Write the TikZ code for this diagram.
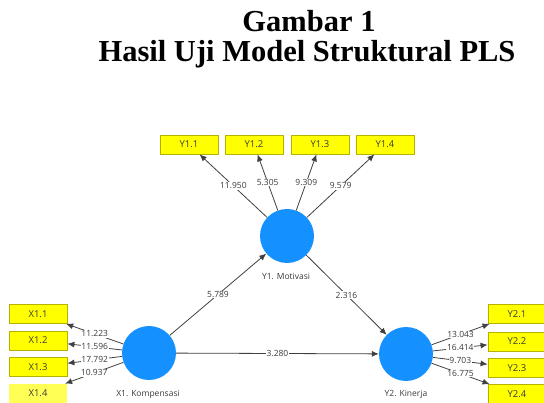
\documentclass[tikz,border=0pt]{standalone}
\usepackage{fontspec}
\setmainfont{Liberation Serif}
\newfontfamily\diagfont{Open Sans}
\usetikzlibrary{arrows.meta}
\definecolor{boxfill}{HTML}{FFFF00}
\definecolor{boxfillpale}{HTML}{FFFF55}
\definecolor{boxedge}{HTML}{B4B400}
\definecolor{latent}{HTML}{1591FF}
\definecolor{linegray}{HTML}{404040}
\definecolor{txtgray}{HTML}{3A3A3A}
\tikzset{
  ind/.style={draw=boxedge, fill=boxfill, line width=0.8pt, minimum width=58pt, minimum height=19pt, inner sep=0pt, font=\diagfont\fontsize{9.5}{10}\selectfont, text=txtgray},
  indpale/.style={ind, draw=none, fill=boxfillpale},
  lat/.style={circle, fill=latent, minimum size=54pt, inner sep=0pt},
  latlabel/.style={font=\diagfont\fontsize{8.5}{9}\selectfont, text=txtgray, inner sep=0pt},
  conn/.style={draw=linegray, line width=0.8pt, -{Latex[length=7pt,width=6pt]}},
  val/.style={fill=white, inner sep=0.6pt, font=\diagfont\fontsize{8.5}{9}\selectfont, text=txtgray},
  ttl/.style={font=\fontsize{30.5}{34}\bfseries\selectfont, inner sep=0pt, anchor=base}
}
\begin{document}
\begin{tikzpicture}[x=1pt,y=-1pt]
\useasboundingbox (0,0) rectangle (544,403);
% title
\node[ttl, text depth=0pt] (t1) at (309,32) {Gambar 1};
\node[ttl] (t2) at (307,62) {Hasil Uji Model Struktural PLS};
% latent variables
\node[lat] (Y1) at (287,236) {};
\node[lat] (X1) at (149,353) {};
\node[lat] (Y2) at (406,354) {};
\node[latlabel] (lY1) at (286,276) {Y1. Motivasi};
\node[latlabel] (lX1) at (148,394) {X1. Kompensasi};
\node[latlabel] (lY2) at (406,394.5) {Y2. Kinerja};
% indicators Y1
\node[ind] (y11) at (189,144.5) {Y1.1};
\node[ind] (y12) at (254,144.5) {Y1.2};
\node[ind] (y13) at (320,144.5) {Y1.3};
\node[ind] (y14) at (385,144.5) {Y1.4};
% indicators X1
\node[ind] (x11) at (38,314) {X1.1};
\node[ind] (x12) at (38,340.5) {X1.2};
\node[ind] (x13) at (38,367) {X1.3};
\node[indpale] (x14) at (38,393.5) {X1.4};
% indicators Y2
\node[ind] (y21) at (517,314) {Y2.1};
\node[ind] (y22) at (517,341.5) {Y2.2};
\node[ind] (y23) at (517,368) {Y2.3};
\node[ind] (y24) at (517,394) {Y2.4};
% outer model arrows
\draw[conn] (Y1) -- node[val] {11.950} (y11);
\draw[conn] (Y1) -- node[val] {5.305} (y12);
\draw[conn] (Y1) -- node[val] {9.309} (y13);
\draw[conn] (Y1) -- node[val] {9.579} (y14);
\draw[conn] (X1) -- node[val] {11.223} (x11);
\draw[conn] (X1) -- node[val] {11.596} (x12);
\draw[conn] (X1) -- node[val] {17.792} (x13);
\draw[conn] (X1) -- node[val] {10.937} (x14);
\draw[conn] (Y2) -- node[val] {13.043} (y21);
\draw[conn] (Y2) -- node[val] {16.414} (y22);
\draw[conn] (Y2) -- node[val] {9.703} (y23);
\draw[conn] (Y2) -- node[val] {16.775} (y24);
% inner model
\draw[conn] (X1) -- node[val] {5.789} (Y1);
\draw[conn] (Y1) -- node[val] {2.316} (Y2);
\draw[conn] (X1) -- node[val] {3.280} (Y2);
\end{tikzpicture}
\end{document}
